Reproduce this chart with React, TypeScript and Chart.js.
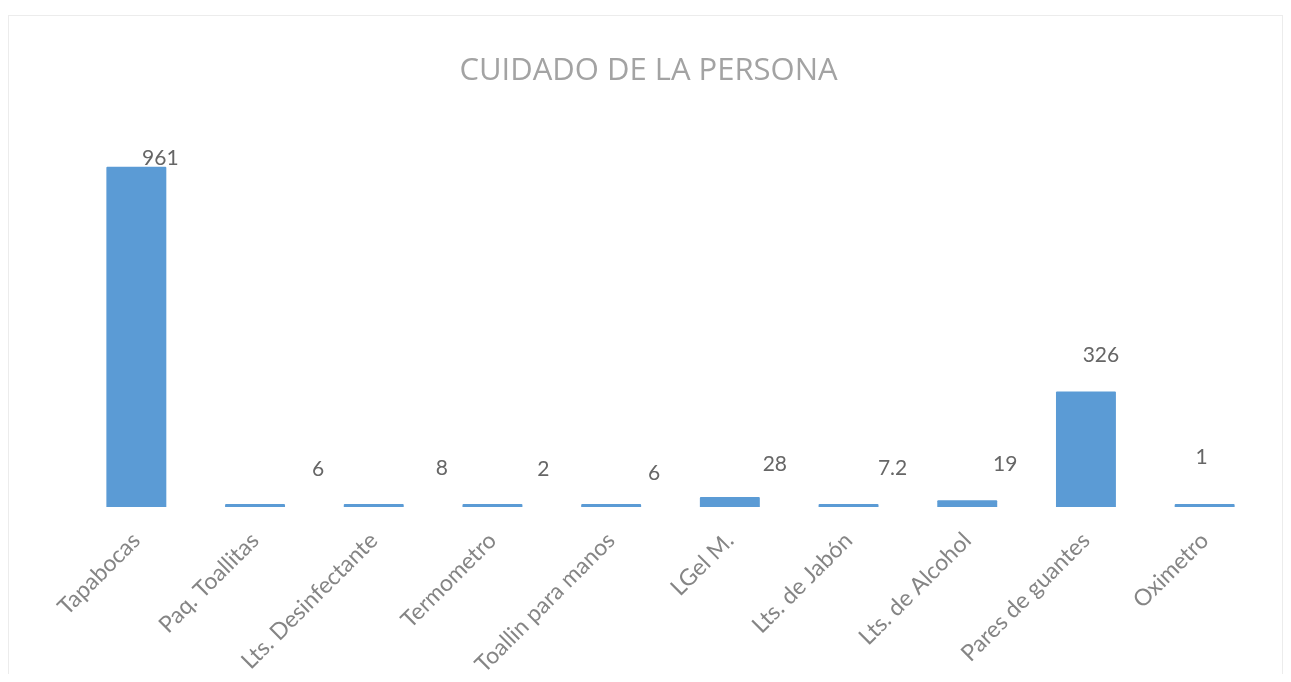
import React, { useEffect, useRef } from "react";
import { Chart, registerables } from "chart.js";

Chart.register(...registerables);

const titleText = "CUIDADO DE LA PERSONA";
const categories = [
  "Tapabocas",
  "Paq. Toallitas",
  "Lts. Desinfectante",
  "Termometro",
  "Toallin para manos",
  "LGel M.",
  "Lts. de Jabón",
  "Lts. de Alcohol",
  "Pares de guantes",
  "Oximetro",
];
const values = [961, 6, 8, 2, 6, 28, 7.2, 19, 326, 1];
// label nudges (dx, dy above bar top) mimicking the reference's hand-placed labels
const labelNudgeX = [24, 63, 68, 51, 43, 45, 44, 38, 15, -3];
const labelNudgeY = [9, 35, 36, 35, 31, 33, 36, 36, 36, 47];

const valueLabels = {
  id: "valueLabels",
  afterDatasetsDraw(chart: any) {
    const ctx = chart.ctx;
    const meta = chart.getDatasetMeta(0);
    ctx.save();
    ctx.font = "21px Lato";
    ctx.fillStyle = "#666666";
    ctx.textAlign = "center";
    ctx.textBaseline = "middle";
    meta.data.forEach((bar: any, i: number) => {
      const v = values[i];
      ctx.fillText(String(v), bar.x + labelNudgeX[i], bar.y - labelNudgeY[i]);
    });
    ctx.restore();
  },
};

const centeredTitle = {
  id: "centeredTitle",
  afterDraw(chart: any) {
    const ctx = chart.ctx;
    ctx.save();
    ctx.font = "31px 'Open Sans'";
    ctx.fillStyle = "#a3a3a3";
    ctx.textAlign = "center";
    ctx.textBaseline = "middle";
    ctx.fillText(titleText, chart.width / 2 + 3, 55);
    ctx.restore();
  },
};

export default function App() {
  const ref = useRef<HTMLCanvasElement | null>(null);
  useEffect(() => {
    if (!ref.current) return;
    const chart = new Chart(ref.current, {
      type: "bar",
      data: {
        labels: categories,
        datasets: [
          {
            data: values,
            backgroundColor: "#5B9BD5",
            borderWidth: 0,
            minBarLength: 3,
            categoryPercentage: 1,
            barPercentage: 0.505,
            borderRadius: 1,
          },
        ],
      },
      options: {
        animation: false,
        responsive: true,
        maintainAspectRatio: false,
        layout: { padding: { left: 68, right: 18, top: 137, bottom: 0 } },
        plugins: {
          legend: { display: false },
          tooltip: { enabled: false },
          title: { display: false },
        },
        scales: {
          x: {
            grid: { display: false },
            border: { display: false },
            ticks: {
              color: "#858585",
              font: { family: "Lato", size: 23 },
              minRotation: 45,
              maxRotation: 45,
              autoSkip: false,
              padding: 12,
            },
            afterFit(scale: any) {
              scale.height = 167;
            },
          },
          y: {
            display: false,
            min: 0,
            max: 1000,
          },
        },
      },
      plugins: [valueLabels, centeredTitle],
    });
    return () => chart.destroy();
  }, []);

  return (
    <div
      style={{
        marginTop: 7,
        border: "1px solid #ececec",
        borderBottom: "none",
        height: 658,
        position: "relative",
        background: "#fff",
      }}
    >
      <canvas ref={ref} />
    </div>
  );
}
